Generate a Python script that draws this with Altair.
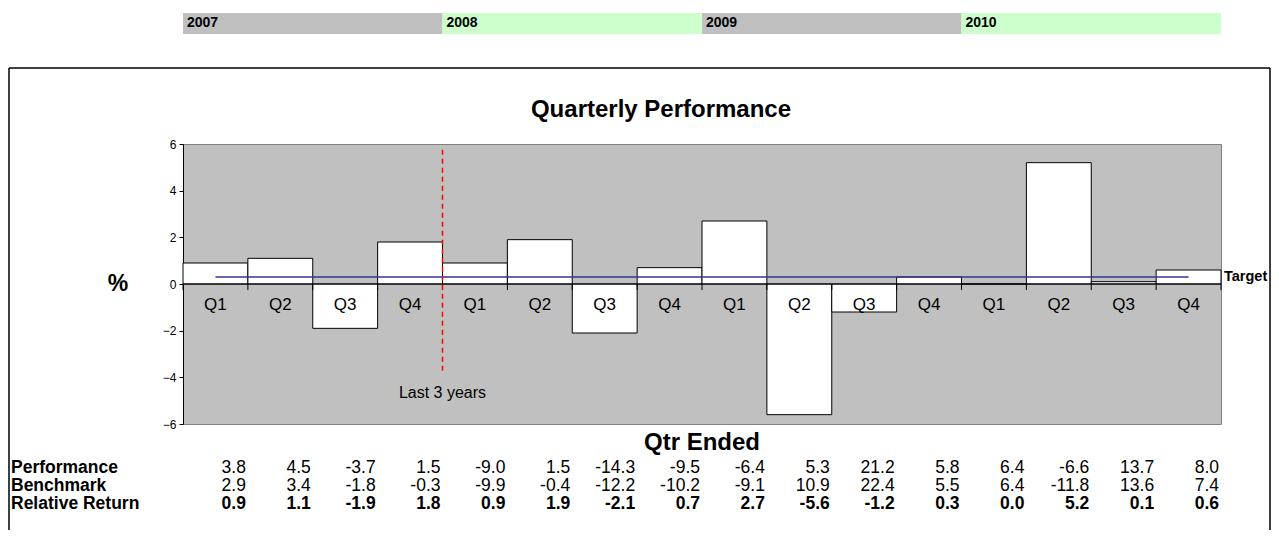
import altair as alt
import pandas as pd

FONT = "Liberation Sans"

years = ["2007", "2008", "2009", "2010"]
year_colors = ["#C0C0C0", "#CCFFCC", "#C0C0C0", "#CCFFCC"]
quarters = ["Q1", "Q2", "Q3", "Q4"] * 4
performance = [3.8, 4.5, -3.7, 1.5, -9.0, 1.5, -14.3, -9.5, -6.4, 5.3, 21.2, 5.8, 6.4, -6.6, 13.7, 8.0]
benchmark = [2.9, 3.4, -1.8, -0.3, -9.9, -0.4, -12.2, -10.2, -9.1, 10.9, 22.4, 5.5, 6.4, -11.8, 13.6, 7.4]
relative = [0.9, 1.1, -1.9, 1.8, 0.9, 1.9, -2.1, 0.7, 2.7, -5.6, -1.2, 0.3, 0.0, 5.2, 0.1, 0.6]
target = 0.3
last3_idx = 4
row_labels = ["Performance", "Benchmark", "Relative Return"]
y_ticks = [-6, -4, -2, 0, 2, 4, 6]

W, H = 1038, 280

n = len(relative)
df = pd.DataFrame({
    "i0": list(range(n)),
    "i1": [i + 1 for i in range(n)],
    "mid": [i + 0.5 for i in range(n)],
    "zero": [0.0] * n,
    "q": quarters,
    "rel": relative,
    "perf_s": [f"{v:.1f}" for v in performance],
    "bench_s": [f"{v:.1f}" for v in benchmark],
    "rel_s": [f"{v:.1f}" for v in relative],
})
ydf = pd.DataFrame({
    "year": years,
    "s": [4 * k for k in range(len(years))],
    "e": [4 * k + 4 for k in range(len(years))],
})
one = pd.DataFrame({"a": [0]})
consts = pd.DataFrame({
    "x0": [0.0], "xn": [float(n)], "xm0": [0.5], "xmn": [n - 0.5],
    "zero": [0.0], "tgt": [target], "last": [float(last3_idx)],
    "rtop": [5.75], "rbot": [-3.8],
})
bounds = pd.DataFrame({"b": list(range(n + 1)), "z": [0.0] * (n + 1), "zb": [-0.26] * (n + 1)})

xs = alt.Scale(domain=[0, n], nice=False, zero=False)
ys = alt.Scale(domain=[-6, 6], nice=False, zero=False)
yaxis = alt.Axis(values=y_ticks, grid=False, title=None, tickSize=4,
                 labelFontSize=12, labelFont=FONT, labelColor="black",
                 domainColor="black", tickColor="black", labelPadding=3)


def X(f):
    return alt.X(f, scale=xs, axis=None)


def Y(f):
    return alt.Y(f, scale=ys, axis=yaxis)


base = alt.Chart(df)
cbase = alt.Chart(consts)

BOX_BOTTOM = 386
BOX_RIGHT = 1087
box_l = alt.Chart(one).mark_rule(color="black", strokeWidth=1.5).encode(
    x=alt.value(-174), y=alt.value(-76), y2=alt.value(BOX_BOTTOM))
box_r = alt.Chart(one).mark_rule(color="black", strokeWidth=1.5).encode(
    x=alt.value(BOX_RIGHT), y=alt.value(-76), y2=alt.value(BOX_BOTTOM))
box_t = alt.Chart(one).mark_rule(color="black", strokeWidth=1.5).encode(
    x=alt.value(-174), x2=alt.value(BOX_RIGHT), y=alt.value(-76))

bars = base.mark_rect(fill="white", stroke="black", strokeWidth=1).encode(
    x=X("i0:Q"), x2="i1:Q", y=Y("rel:Q"), y2="zero:Q",
)

zero_line = cbase.mark_rule(color="black", strokeWidth=1).encode(
    x=X("x0:Q"), x2="xn:Q", y=Y("zero:Q")
)

zticks = alt.Chart(bounds).mark_rule(color="black", strokeWidth=1).encode(
    x=X("b:Q"), y=Y("z:Q"), y2="zb:Q"
)

qlabels = base.mark_text(font=FONT, fontSize=17, baseline="middle", dy=21, color="black").encode(
    x=X("mid:Q"), y=Y("zero:Q"), text="q:N"
)

target_line = cbase.mark_rule(color="#333399", strokeWidth=1.5).encode(
    x=X("xm0:Q"), x2="xmn:Q", y=Y("tgt:Q")
)

red_line = cbase.mark_rule(color="#FF0000", strokeWidth=1.5, strokeDash=[5, 4]).encode(
    x=X("last:Q"), y=Y("rtop:Q"), y2="rbot:Q"
)

last3 = cbase.mark_text(text="Last 3 years", font=FONT, fontSize=16, baseline="middle",
                         align="center", color="black").encode(
    x=X("last:Q"), y=alt.value(249)
)

year_band = alt.Chart(ydf).mark_rect().encode(
    x=X("s:Q"), x2="e:Q", y=alt.value(-131), y2=alt.value(-110),
    color=alt.Color("year:N", scale=alt.Scale(domain=years, range=year_colors), legend=None),
)
year_text = alt.Chart(ydf).mark_text(font=FONT, fontSize=14, fontWeight="bold", align="left",
                                      baseline="middle", dx=4, color="black").encode(
    x=X("s:Q"), y=alt.value(-121), text="year:N"
)

title = alt.Chart(one).mark_text(text="Quarterly Performance", font=FONT, fontSize=24, fontWeight="bold",
                                  align="center", baseline="middle", color="black").encode(
    x=alt.value(478), y=alt.value(-34)
)
pct = alt.Chart(one).mark_text(text="%", font=FONT, fontSize=23, fontWeight="bold",
                                align="center", baseline="middle", color="black").encode(
    x=alt.value(-65), y=alt.value(140)
)
qtr = alt.Chart(one).mark_text(text="Qtr Ended", font=FONT, fontSize=24, fontWeight="bold",
                                align="center", baseline="middle", color="black").encode(
    x=alt.value(519), y=alt.value(299)
)
tgt = cbase.mark_text(text="Target", font=FONT, fontSize=14.5, fontWeight="bold",
                       align="left", baseline="middle", color="black").encode(
    x=alt.value(W + 3), y=Y("tgt:Q")
)

row_y = [324, 342, 360]
rows = []
for lbl, ry in zip(row_labels, row_y):
    rows.append(alt.Chart(pd.DataFrame({"t": [lbl]})).mark_text(
        font=FONT, fontSize=17.5, fontWeight="bold", align="left", baseline="middle", color="black"
    ).encode(x=alt.value(-172), y=alt.value(ry), text="t:N"))
for col, ry, wt in zip(["perf_s", "bench_s", "rel_s"], row_y, ["normal", "normal", "bold"]):
    rows.append(base.mark_text(font=FONT, fontSize=17.5, fontWeight=wt, align="right",
                               baseline="middle", dx=-2, color="black").encode(
        x=X("i1:Q"), y=alt.value(ry), text=f"{col}:N"))

chart = alt.layer(
    box_l, box_r, box_t, year_band, year_text, bars, zero_line, zticks, qlabels, target_line,
    red_line, last3, title, pct, qtr, tgt, *rows
).properties(
    width=W, height=H,
    padding={"left": 0, "top": 5, "right": 0, "bottom": 0},
).configure_view(
    fill="#C0C0C0", stroke="#808080", strokeWidth=1
)

chart.save("out.html", embed_options={"renderer": "svg", "actions": False})
